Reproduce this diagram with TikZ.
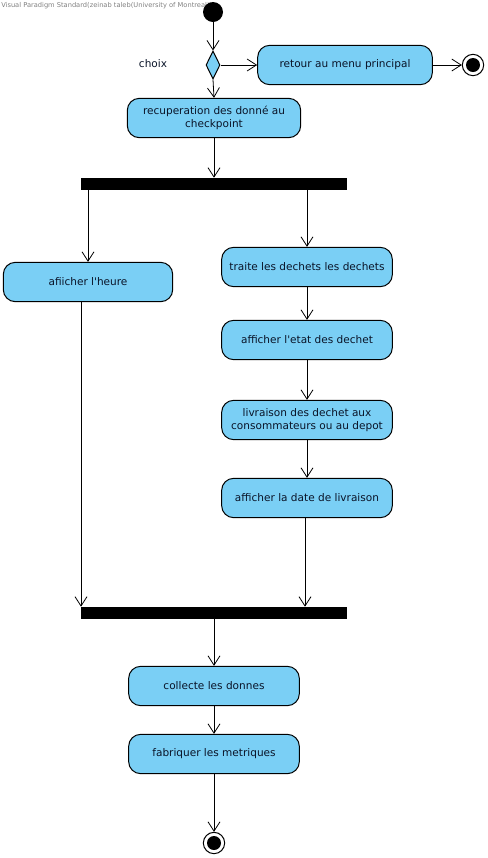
\documentclass[tikz,border=0pt]{standalone}
\usepackage{fontspec}
\setmainfont{DejaVu Sans}
\usetikzlibrary{arrows.meta}
\usetikzlibrary{shapes.geometric}
\usetikzlibrary{positioning}
\definecolor{vpblue}{RGB}{122,207,245}
\definecolor{vptext}{RGB}{10,20,40}

\tikzset{
  action/.style={draw, fill=vpblue, rounded corners=9pt, line width=0.75pt,
    minimum width=128pt, minimum height=29.5pt, align=center, inner sep=2pt,
    text=vptext, font=\fontsize{7.9}{10}\selectfont},
  bar/.style={fill=black, minimum width=199.5pt, minimum height=9pt, inner sep=0pt},
  initnode/.style={circle, fill=black, minimum size=15pt, inner sep=0pt},
  finalnode/.style={circle, draw, fill=white, line width=0.75pt, minimum size=16pt, inner sep=0pt,
    path picture={\fill[black] (path picture bounding box.center) circle (5.25pt);}},
  decision/.style={diamond, draw, fill=vpblue, line width=0.75pt, aspect=0.5,
    minimum width=10.5pt, minimum height=21pt, inner sep=0pt},
  flow/.style={line width=0.6pt, -{Straight Barb[length=7pt,width=9pt]}},
}

\begin{document}
\begin{tikzpicture}[x=0.75pt, y=-0.75pt]

    \useasboundingbox (0, 0) rectangle (488, 858);

    \node [anchor=north west, inner sep=0pt, text=gray, font=\fontsize{5}{6}\selectfont] (wm) at (1, 2)
      {Visual Paradigm Standard(zeinab taleb(University of Montreal))};

    \node [initnode] (start) at (213, 12) {};
    \node [decision] (choix) at (213, 65) {};
    \node [text=vptext, font=\fontsize{7.9}{10}\selectfont] (choixlbl) at (153, 64) {choix};
    \node [action, minimum width=131pt] (retour) at (345, 65) {retour au menu principal};
    \node [finalnode] (fin1) at (473, 65) {};

    \node [action, minimum width=130pt] (recup) at (214, 118) {recuperation des donné au\\checkpoint};
    \node [bar] (fork) at (214, 184) {};

    \node [action, minimum width=127pt] (heure) at (88, 282) {afiicher l\textquotesingle heure};

    \node [action] (traite) at (307, 267) {traite les dechets les dechets};
    \node [action] (etat) at (307, 340) {afficher l\textquotesingle etat des dechet};
    \node [action] (livr) at (307, 420) {livraison des dechet aux\\consommateurs ou au depot};
    \node [action] (date) at (307, 498) {afficher la date de livraison};

    \node [bar] (join) at (214, 613) {};

    \node [action] (collecte) at (214, 686) {collecte les donnes};
    \node [action] (metriques) at (214, 754) {fabriquer les metriques};
    \node [finalnode] (fin2) at (214, 843) {};

    \draw [flow] (start) -- (choix.north);
    \draw [flow] (choix.east) -- (retour.west);
    \draw [flow] (retour.east) -- (fin1.west);
    \draw [flow] (choix.south) -- (recup.north);
    \draw [flow] (recup.south) -- (fork.north);

    \draw [flow] (fork.south -| heure.north) -- (heure.north);
    \draw [flow] (fork.south -| traite.north) -- (traite.north);
    \draw [flow] (traite) -- (etat);
    \draw [flow] (etat) -- (livr);
    \draw [flow] (livr) -- (date);

    \draw [flow] ([xshift=-5.25pt]heure.south) -- ([xshift=-5.25pt]heure.south |- join.north);
    \draw [flow] ([xshift=-1.5pt]date.south) -- ([xshift=-1.5pt]date.south |- join.north);

    \draw [flow] (join.south) -- (collecte.north);
    \draw [flow] (collecte) -- (metriques);
    \draw [flow] (metriques) -- (fin2);

  \end{tikzpicture}
\end{document}
